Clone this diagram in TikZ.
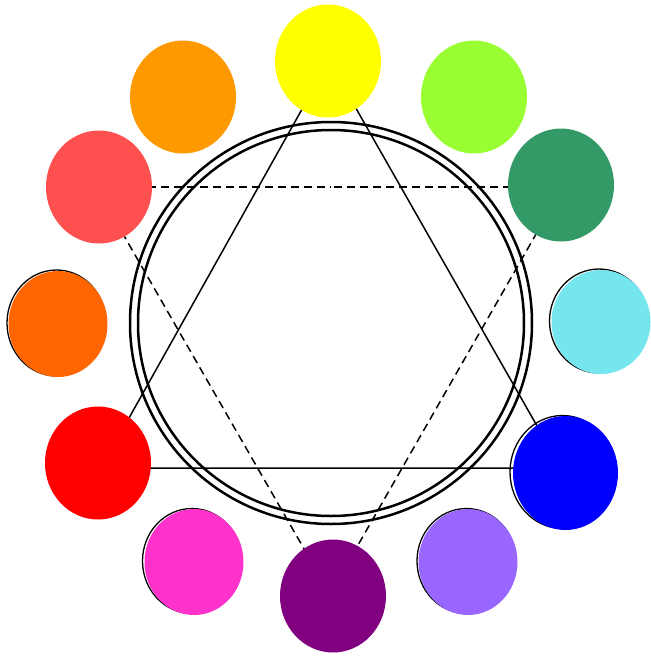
\documentclass[tikz,border=0pt]{standalone}
\usetikzlibrary{shapes.geometric}
\definecolor{cYellow}{HTML}{FFFF00}
\definecolor{cOrange}{HTML}{FF9900}
\definecolor{cLime}{HTML}{99FF33}
\definecolor{cSalmon}{HTML}{FF5050}
\definecolor{cGreen}{HTML}{339966}
\definecolor{cOrRed}{HTML}{FF6600}
\definecolor{cCyan}{HTML}{75E6ED}
\definecolor{cRed}{HTML}{FF0000}
\definecolor{cBlue}{HTML}{0000FF}
\definecolor{cPink}{HTML}{FF33CC}
\definecolor{cPurple}{HTML}{800080}
\definecolor{cLav}{HTML}{9966FF}
\tikzset{
  blob/.style={ellipse, inner sep=0pt, minimum width=106pt, minimum height=113pt, fill=#1},
  smallblob/.style={ellipse, inner sep=0pt, minimum width=99pt, minimum height=106pt, fill=#1},
  rim/.style={ellipse, inner sep=0pt, draw=black, line width=1.3pt},
  ring/.style={line width=2.5pt},
  solidedge/.style={line width=1.5pt},
  dashedge/.style={line width=1.5pt, dash pattern=on 8pt off 5pt},
}
\begin{document}
\begin{tikzpicture}[x=1pt,y=-1pt]
\useasboundingbox (0,0) rectangle (651,657);
% centre circles
\coordinate (o) at (331,323);
\draw[ring] (o) circle[radius=201];
\draw[ring] (o) circle[radius=193];
% solid triangle
\coordinate (tA) at (329,61);
\coordinate (tB) at (101,468);
\coordinate (tC) at (561,468);
\draw[solidedge] (tA) -- (tB) -- (tC) -- cycle;
% dashed triangle
\coordinate (dA) at (96,187);
\coordinate (dB) at (563,187);
\coordinate (dC) at (330,594);
\coordinate (dM) at (331,187);
\draw[dashedge] (dA) -- (dM);
\draw[dashedge] (dB) -- (dM);
\draw[dashedge] (dA) -- (dC);
\draw[dashedge] (dB) -- (dC);
% outlines behind some blobs
\node[rim, minimum width=99pt, minimum height=106pt] (rOR) at (56.5,323) {};
\node[rim, minimum width=99pt, minimum height=104pt] (rCy) at (599,321) {};
\node[rim, minimum width=105pt, minimum height=113pt] (rBl) at (562.5,472) {};
\node[rim, minimum width=99pt, minimum height=105pt] (rPk) at (192,561) {};
\node[rim, minimum width=99pt, minimum height=105pt] (rLv) at (466.5,561) {};
% colour blobs
\node[blob=cYellow] (yellow) at (328,61) {};
\node[blob=cOrange] (orange) at (183,97) {};
\node[blob=cLime] (lime) at (474,97) {};
\node[blob=cSalmon] (salmon) at (99,187) {};
\node[blob=cGreen] (green) at (561,185) {};
\node[smallblob=cOrRed] (orred) at (58,324) {};
\node[smallblob=cCyan, minimum height=104pt] (cyan) at (601,322) {};
\node[blob=cRed] (red) at (98,463) {};
\node[blob=cBlue, minimum width=105pt, minimum height=114pt] (blue) at (565.5,473) {};
\node[smallblob=cPink] (pink) at (194,562) {};
\node[blob=cPurple] (purple) at (333,596) {};
\node[smallblob=cLav] (lav) at (468,562) {};
\end{tikzpicture}
\end{document}
